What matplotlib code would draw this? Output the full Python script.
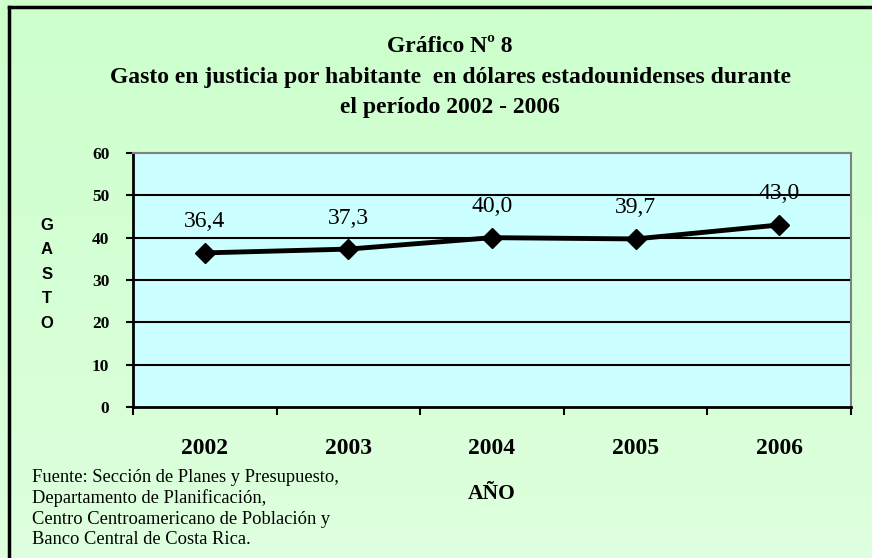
import numpy as np
import matplotlib
matplotlib.use("Agg")
import matplotlib.pyplot as plt
from matplotlib.lines import Line2D

# datos
anios = ['2002', '2003', '2004', '2005', '2006']
gasto = [36.4, 37.3, 40.0, 39.7, 43.0]
etiquetas = ['36,4', '37,3', '40,0', '39,7', '43,0']
yticks = [0, 10, 20, 30, 40, 50, 60]

titulo = ['Gráfico Nº 8',
          'Gasto en justicia por habitante  en dólares estadounidenses durante',
          'el período 2002 - 2006']
fuente = ['Fuente: Sección de Planes y Presupuesto,',
          'Departamento de Planificación,',
          'Centro Centroamericano de Población y',
          'Banco Central de Costa Rica.']

W, H = 872, 558
serif = 'Liberation Serif'
sans = 'Liberation Sans'

fig = plt.figure(figsize=(W / 100, H / 100), dpi=100)

# fondo verde con degradado
bg = fig.add_axes([0, 0, 1, 1], zorder=-10)
grad = np.linspace(0, 1, 256).reshape(-1, 1)
cmap = matplotlib.colors.LinearSegmentedColormap.from_list('bg', ['#CCFFCC', '#DEFFDE'])
bg.imshow(grad, aspect='auto', cmap=cmap, extent=[0, 1, 0, 1], origin='upper')
bg.set_xlim(0, 1)
bg.set_ylim(0, 1)
bg.axis('off')

# marco exterior (solo se ven borde superior e izquierdo)
fig.add_artist(Line2D([9 / W, 9 / W], [-0.1, 1 - 7 / H], color='black', lw=2.5, transform=fig.transFigure))
fig.add_artist(Line2D([9 / W, 1.1], [1 - 7 / H, 1 - 7 / H], color='black', lw=2.5, transform=fig.transFigure))

ax = fig.add_axes([133 / W, 1 - 407 / H, (851 - 133) / W, (407 - 153) / H])
ax.set_facecolor('#CCFFFF')

x = np.arange(len(anios))
ax.plot(x, gasto, color='black', lw=3.5, marker='D', markersize=10, zorder=5)
for xi, yi, lab in zip(x, gasto, etiquetas):
    ax.annotate(lab, (xi, yi), xytext=(0, 31), textcoords='offset pixels',
                ha='center', va='center', fontsize=17, family=serif, zorder=6)

ax.set_xlim(-0.5, len(anios) - 0.5)
ax.set_ylim(0, 60)
ax.set_yticks(yticks)
ax.set_yticklabels([str(v) for v in yticks], fontsize=12.5, fontweight='bold', family=serif)
for v in yticks[1:-1]:
    ax.axhline(v, color='black', lw=1.5, zorder=1)

ax.set_xticks(np.arange(-0.5, len(anios), 1.0))
ax.set_xticklabels([])
ax.set_xticks(x, minor=True)
ax.set_xticklabels(anios, minor=True, fontsize=17, fontweight='bold', family=serif)
ax.tick_params(axis='x', which='major', direction='out', length=6, width=1.5)
ax.tick_params(axis='x', which='minor', length=0, pad=22)
ax.tick_params(axis='y', direction='out', length=5, width=1.5, pad=12)

ax.spines['left'].set_linewidth(2)
ax.spines['bottom'].set_linewidth(2)
ax.spines['top'].set_color('#808080')
ax.spines['right'].set_color('#808080')
ax.spines['top'].set_linewidth(1.5)
ax.spines['right'].set_linewidth(1.5)

# títulos
for texto, yy in zip(titulo, [46, 77, 107]):
    fig.text(450 / W, 1 - yy / H, texto, ha='center', va='center',
             fontsize=17, fontweight='bold', family=serif)

# eje Y vertical: GASTO
for i, letra in enumerate('GASTO'):
    fig.text(47 / W, 1 - (225 + 24.5 * i) / H, letra, ha='center', va='center',
             fontsize=12, fontweight='bold', family=sans)

fig.text(492 / W, 1 - 494 / H, 'AÑO', ha='center', va='center',
         fontsize=15.5, fontweight='bold', family=serif)

for i, linea in enumerate(fuente):
    fig.text(32 / W, 1 - (477 + 21 * i) / H, linea, ha='left', va='center',
             fontsize=13.3, family=serif)

fig.savefig('out.png', dpi=100)
